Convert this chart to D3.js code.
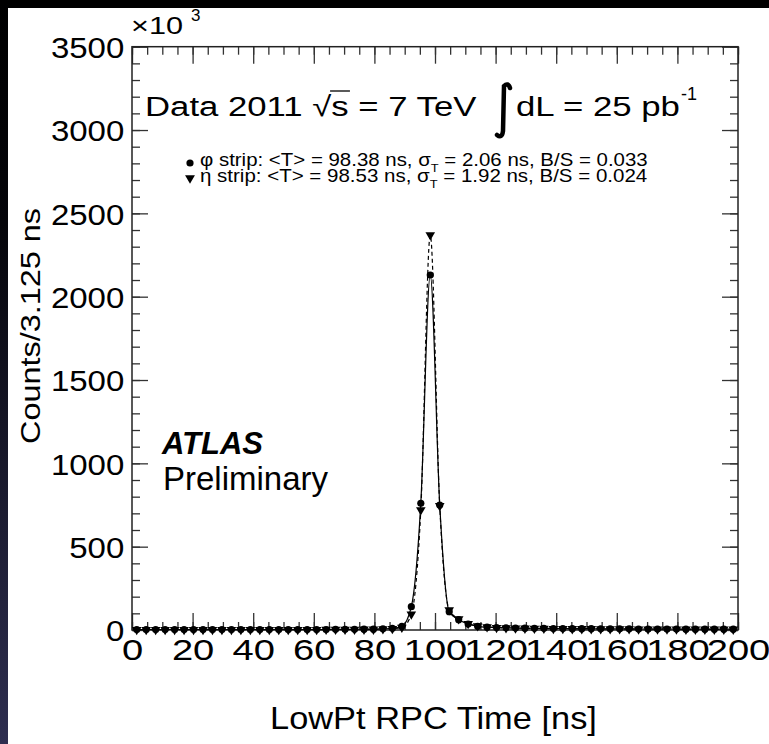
<!DOCTYPE html>
<html>
<head>
<meta charset="utf-8">
<style>
  html, body { margin: 0; padding: 0; background: #fff; }
  svg { display: block; font-family: "Liberation Sans", Arial, sans-serif; }
</style>
</head>
<body>
<svg width="769" height="744"></svg>
<script src="https://cdn.jsdelivr.net/npm/d3@7/dist/d3.min.js"></script>
<script>
// time bins of 3.125 ns from 0 to 200 ns, counts in units of 10^3
var binWidth = 3.125;
var binCount = 64;

var phiCounts = [
  3, 3, 3, 3, 3, 3, 3, 3, 3, 3,
  3, 3, 3, 3, 3, 3, 3, 3, 3, 3,
  3, 4, 4, 4, 5, 5, 7, 10,
  22, 140, 760, 2130, 750, 110, 62, 36, 22, 17,
  15, 13, 12, 11, 10, 10, 9, 9, 8, 8,
  8, 7, 7, 7, 7, 6, 6, 6, 6, 6,
  5, 5, 5, 5, 5, 5
];
var etaCounts = [
  2, 2, 2, 2, 2, 2, 2, 2, 2, 2,
  2, 2, 2, 2, 2, 2, 2, 2, 2, 2,
  3, 3, 3, 3, 4, 4, 6, 8,
  15, 95, 720, 2370, 745, 120, 66, 38, 24, 18,
  14, 12, 11, 10, 9, 9, 8, 8, 7, 7,
  7, 6, 6, 6, 6, 5, 5, 5, 5, 5,
  4, 4, 4, 4, 4, 4
];

var xMajorTicks = [0, 20, 40, 60, 80, 100, 120, 140, 160, 180, 200];
var xMinorTicks = d3.range(0, 201, 5);
var yMajorTicks = [0, 500, 1000, 1500, 2000, 2500, 3000, 3500];
var yMinorTicks = d3.range(0, 3501, 100);

var legendLines = [
  { name: "\u03c6 strip: <T> = 98.38 ns, \u03c3", rest: " = 2.06 ns, B/S = 0.033", marker: "circle" },
  { name: "\u03b7 strip: <T> = 98.53 ns, \u03c3", rest: " = 1.92 ns, B/S = 0.024", marker: "triangle" }
];

var svg = d3.select("svg");
var W = 769, H = 744;
var pLeft = 132, pRight = 738, pTop = 46.7, pBottom = 630;

// page background: black strip on top, dark gradient strip on the left
var defs = svg.append("defs");
var grad = defs.append("linearGradient").attr("id", "edge")
  .attr("x1", 0).attr("y1", 0).attr("x2", 0).attr("y2", 1);
grad.append("stop").attr("offset", "0%").attr("stop-color", "#000");
grad.append("stop").attr("offset", "30%").attr("stop-color", "#05050a");
grad.append("stop").attr("offset", "100%").attr("stop-color", "#2e2e50");
svg.append("rect").attr("width", W).attr("height", H).attr("fill", "#fff");
svg.append("rect").attr("width", W).attr("height", 8).attr("fill", "#000");
svg.append("rect").attr("width", 8).attr("height", H).attr("fill", "url(#edge)");

var x = d3.scaleLinear().domain([0, 200]).range([pLeft, pRight]);
var y = d3.scaleLinear().domain([0, 3500]).range([pBottom, pTop]);

var data = d3.range(binCount).map(function(i) {
  return { t: (i + 0.5) * binWidth, phi: phiCounts[i], eta: etaCounts[i] };
});

// ticks on all four sides
function tickAxis(axis, values, size, transform) {
  var g = svg.append("g").attr("transform", transform)
    .call(axis.tickValues(values).tickSize(size).tickFormat(""));
  g.select(".domain").remove();
  g.selectAll("line").attr("stroke", "#333").attr("stroke-width", 1.3);
  return g;
}
tickAxis(d3.axisBottom(x), xMinorTicks, -8, "translate(0," + pBottom + ")");
tickAxis(d3.axisBottom(x), xMajorTicks, -17, "translate(0," + pBottom + ")");
tickAxis(d3.axisTop(x), xMinorTicks, -8, "translate(0," + pTop + ")");
tickAxis(d3.axisTop(x), xMajorTicks, -17, "translate(0," + pTop + ")");
tickAxis(d3.axisLeft(y), yMinorTicks, -8, "translate(" + pLeft + ",0)");
tickAxis(d3.axisLeft(y), yMajorTicks, -16, "translate(" + pLeft + ",0)");
tickAxis(d3.axisRight(y), yMinorTicks, -8, "translate(" + pRight + ",0)");
tickAxis(d3.axisRight(y), yMajorTicks, -16, "translate(" + pRight + ",0)");

svg.append("rect")
  .attr("x", pLeft).attr("y", pTop)
  .attr("width", pRight - pLeft).attr("height", pBottom - pTop)
  .attr("fill", "none").attr("stroke", "#222").attr("stroke-width", 1.5);

// tick labels
var xLab = svg.append("g").attr("transform", "translate(0," + pBottom + ")")
  .call(d3.axisBottom(x).tickValues(xMajorTicks).tickSize(0).tickPadding(9).tickFormat(d3.format("d")));
xLab.select(".domain").remove();
xLab.selectAll("text")
  .attr("font-family", "Liberation Sans, Arial, sans-serif")
  .attr("font-size", 30).attr("fill", "#000")
  .attr("transform", "scale(1.27,1)");

var yLab = svg.append("g").attr("transform", "translate(" + pLeft + ",0)")
  .call(d3.axisLeft(y).tickValues(yMajorTicks).tickSize(0).tickFormat(d3.format("d")));
yLab.select(".domain").remove();
yLab.selectAll("text")
  .attr("font-family", "Liberation Sans, Arial, sans-serif")
  .attr("font-size", 30).attr("fill", "#000")
  .attr("x", -7).attr("dy", "0.36em")
  .attr("transform", "scale(1.1,1)");

// text helper: put a text in a group and stretch it to a measured width
function fitted(px, py, width, build) {
  var g = svg.append("g");
  var t = g.append("text").attr("x", 0).attr("y", 0).attr("fill", "#000");
  build(t);
  var w = t.node().getBBox().width;
  g.attr("transform", "translate(" + px + "," + py + ") scale(" + (width / w) + ",1)");
  return { g: g, t: t };
}

// x10^3 multiplier
fitted(131, 34, 52, function(t) { t.attr("font-size", 24).text("\u00d710"); });
svg.append("text").attr("x", 191).attr("y", 21).attr("font-size", 17).text("3");

// axis titles
fitted(270, 729, 327, function(t) { t.attr("font-size", 32).text("LowPt RPC Time [ns]"); });
var yt = svg.append("g").attr("transform", "translate(40,326) rotate(-90)");
var ytt = yt.append("text").attr("text-anchor", "middle").attr("font-size", 28).text("Counts/3.125 ns");
var ytw = ytt.node().getBBox().width;
ytt.attr("transform", "scale(" + (236 / ytw) + ",1)");

// run info
var run = fitted(145, 116, 332, function(t) {
  t.attr("font-size", 28).text("Data 2011 \u221as = 7 TeV");
});
var sIdx = "Data 2011 \u221a".length;
var s0 = run.t.node().getStartPositionOfChar(sIdx).x;
var s1 = run.t.node().getEndPositionOfChar(sIdx).x;
run.g.append("line")
  .attr("x1", s0 - 1).attr("x2", s1 + 1).attr("y1", -25).attr("y2", -25)
  .attr("stroke", "#000").attr("stroke-width", 1.3);

svg.append("path")
  .attr("d", "M510,88 Q508,82 504,86 L503,131 Q502,139 497,135")
  .attr("fill", "none").attr("stroke", "#000").attr("stroke-width", 4.5)
  .attr("stroke-linecap", "round");
fitted(516, 116, 164, function(t) { t.attr("font-size", 28).text("dL = 25 pb"); });
svg.append("text").attr("x", 681).attr("y", 100).attr("font-size", 18).text("-1");

// legend
legendLines.forEach(function(d, i) {
  var by = 166 + i * 16;
  fitted(200, by, 448, function(t) {
    t.attr("font-size", 17.5);
    t.append("tspan").text(d.name);
    t.append("tspan").attr("font-size", 11).attr("dy", 6).text("T");
    t.append("tspan").attr("dy", -6).text(d.rest);
  });
  if (d.marker === "circle") {
    svg.append("circle").attr("cx", 190).attr("cy", by - 3).attr("r", 3.6).attr("fill", "#000");
  } else {
    svg.append("path")
      .attr("d", d3.symbol(d3.symbolTriangle, 42)())
      .attr("transform", "translate(190," + (by - 4) + ") rotate(180)")
      .attr("fill", "#000");
  }
});

// ATLAS label
svg.append("text").attr("x", 162).attr("y", 454)
  .attr("font-size", 31).attr("font-weight", "bold").attr("font-style", "italic")
  .text("ATLAS");
svg.append("text").attr("x", 163).attr("y", 490).attr("font-size", 33).text("Preliminary");

// fit-like curves through the points
var phiLine = d3.line().x(function(d) { return x(d.t); }).y(function(d) { return y(d.phi); })
  .curve(d3.curveMonotoneX);
var etaLine = d3.line().x(function(d) { return x(d.t); }).y(function(d) { return y(d.eta); })
  .curve(d3.curveMonotoneX);

svg.append("path").datum(data).attr("d", phiLine)
  .attr("fill", "none").attr("stroke", "#000").attr("stroke-width", 1.2);
svg.append("path").datum(data).attr("d", etaLine)
  .attr("fill", "none").attr("stroke", "#000").attr("stroke-width", 1.2)
  .attr("stroke-dasharray", "4,3");

// markers
svg.append("g").selectAll("circle").data(data).enter().append("circle")
  .attr("cx", function(d) { return x(d.t); })
  .attr("cy", function(d) { return y(d.phi); })
  .attr("r", 3.6).attr("fill", "#000");
svg.append("g").selectAll("path").data(data).enter().append("path")
  .attr("d", d3.symbol(d3.symbolTriangle, 40)())
  .attr("transform", function(d) { return "translate(" + x(d.t) + "," + y(d.eta) + ") rotate(180)"; })
  .attr("fill", "#000");
</script>
</body>
</html>
